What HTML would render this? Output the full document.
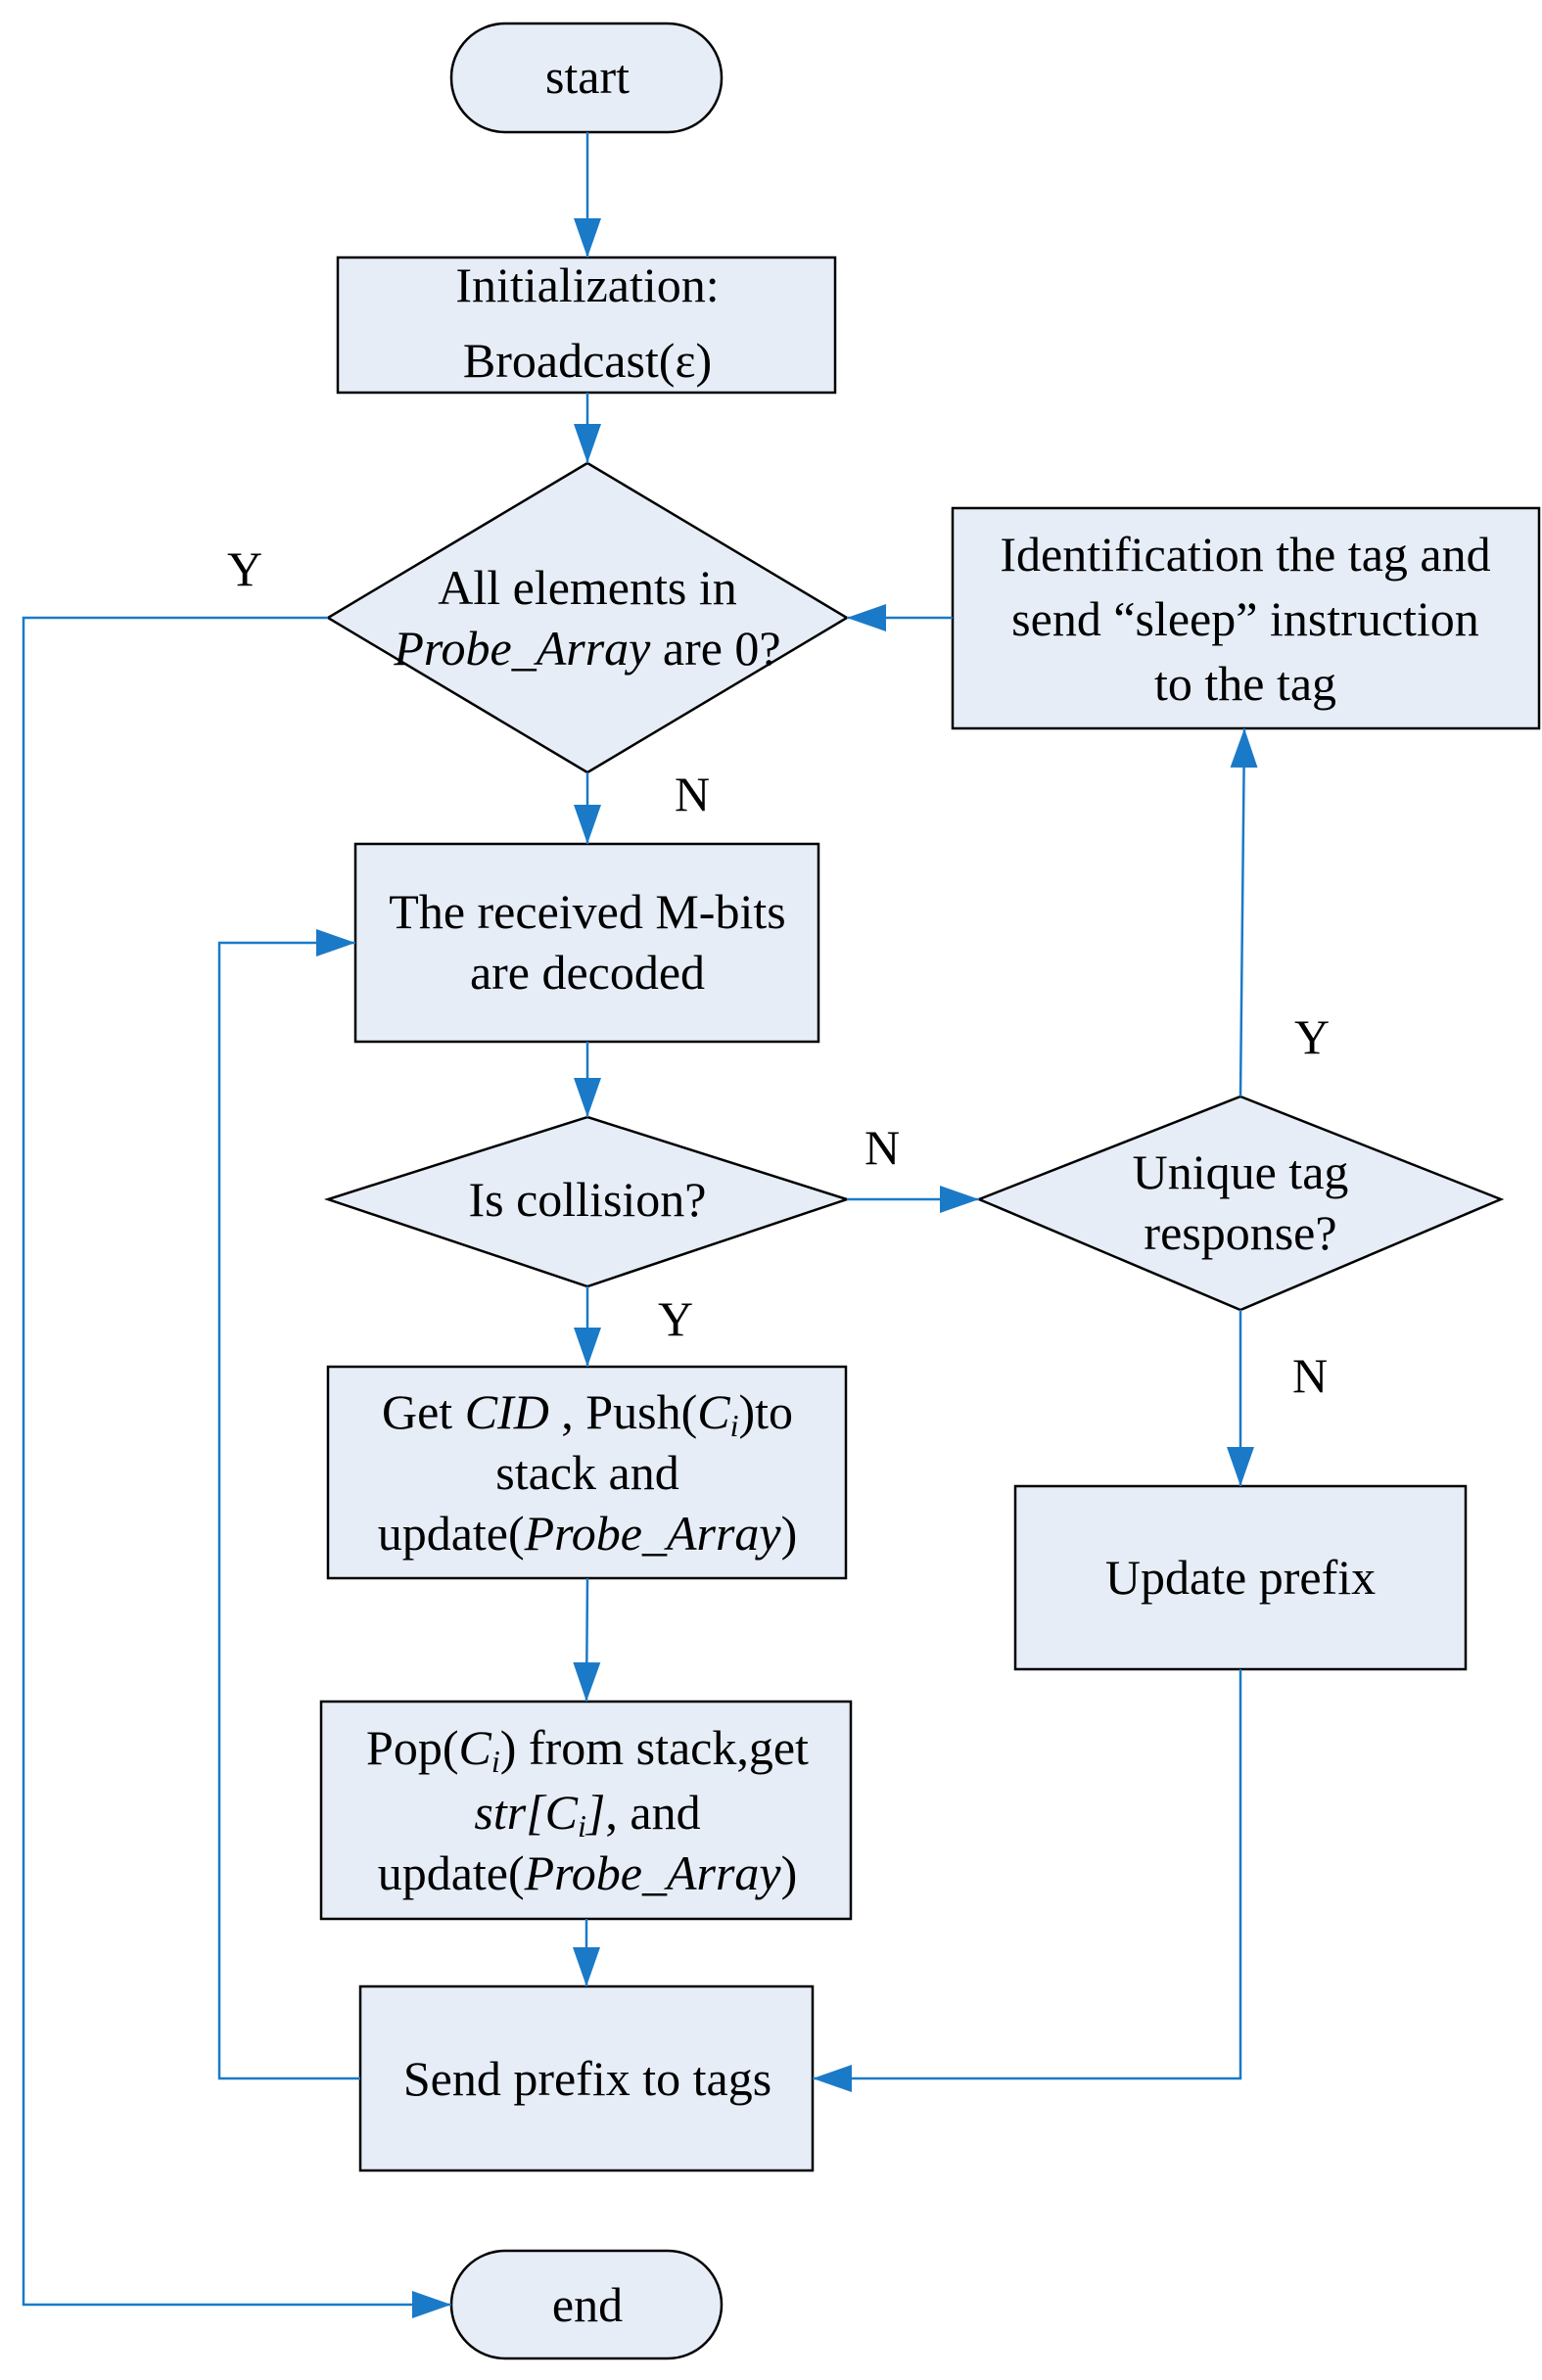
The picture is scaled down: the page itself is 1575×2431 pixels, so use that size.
<!DOCTYPE html>
<html><head><meta charset="utf-8"><style>
html,body{margin:0;padding:0;background:#fff}
svg text{font-family:"Liberation Serif",serif;font-size:50px;fill:#000;text-anchor:middle}
</style></head><body>
<svg width="1575" height="2426" viewBox="0 0 1575 2426" xmlns="http://www.w3.org/2000/svg">
<defs>
<marker id="b" viewBox="0 0 10 10" refX="10" refY="5" markerWidth="40" markerHeight="40" markerUnits="userSpaceOnUse" orient="auto"><path d="M0,1.5 L10,5 L0,8.5 z" fill="#1a7ac8"/></marker></defs>
<g fill="#e6edf7" stroke="#000" stroke-width="2.5">
<rect x="461" y="24" width="276" height="111" rx="55"/>
<rect x="345" y="263" width="508" height="138"/>
<polygon points="600,473 865,631 600,789 335,631"/>
<rect x="973" y="519" width="599" height="225"/>
<rect x="363" y="862" width="473" height="202"/>
<polygon points="600,1141 865,1225 600,1314 335,1225"/>
<polygon points="1267,1120 1533,1225 1267,1338 1000,1225"/>
<rect x="335" y="1396" width="529" height="216"/>
<rect x="1037" y="1518" width="460" height="187"/>
<rect x="328" y="1738" width="541" height="222"/>
<rect x="368" y="2029" width="462" height="188"/>
<rect x="461" y="2299" width="276" height="110" rx="55"/>
</g>
<g stroke="#1a7ac8" stroke-width="2.5" fill="none" marker-end="url(#b)">
<line x1="600" y1="135" x2="600" y2="263"/>
<line x1="600" y1="401" x2="600" y2="473"/>
<line x1="600" y1="789" x2="600" y2="862"/>
<line x1="600" y1="1064" x2="600" y2="1141"/>
<line x1="600" y1="1314" x2="600" y2="1396"/>
<line x1="600" y1="1612" x2="599" y2="1738"/>
<line x1="599" y1="1960" x2="599" y2="2029"/>
<line x1="973" y1="631" x2="865" y2="631"/>
<line x1="865" y1="1225" x2="1000" y2="1225"/>
<line x1="1267" y1="1120" x2="1271" y2="744"/>
<line x1="1267" y1="1338" x2="1267" y2="1518"/>
<polyline points="1267,1705 1267,2123 830,2123"/>
<polyline points="368,2123 224,2123 224,963 363,963"/>
<polyline points="335,631 24,631 24,2354 461,2354"/>
</g>
<text x="600" y="95">start</text>
<text x="600" y="308">Initialization:</text>
<text x="600" y="385">Broadcast(ε)</text>
<text x="600" y="617">All elements in</text>
<text x="600" y="679"><tspan font-style="italic">Probe_Array</tspan> are 0?</text>
<text x="1272" y="583">Identification the tag and</text>
<text x="1272" y="649">send “sleep” instruction</text>
<text x="1272" y="715">to the tag</text>
<text x="600" y="948">The received M-bits</text>
<text x="600" y="1010">are decoded</text>
<text x="600" y="1242">Is collision?</text>
<text x="1267" y="1214">Unique tag</text>
<text x="1267" y="1276">response?</text>
<text x="600" y="1459">Get <tspan font-style="italic">CID</tspan> , Push(<tspan font-style="italic">C<tspan font-size="32" dy="8">i</tspan></tspan><tspan dy="-8">)to</tspan></text>
<text x="600" y="1521">stack and</text>
<text x="600" y="1583">update(<tspan font-style="italic">Probe_Array</tspan>)</text>
<text x="1267" y="1628">Update prefix</text>
<text x="600" y="1802">Pop(<tspan font-style="italic">C<tspan font-size="32" dy="8">i</tspan></tspan><tspan dy="-8">) from stack,get</tspan></text>
<text x="600" y="1868"><tspan font-style="italic">str[C<tspan font-size="32" dy="8">i</tspan><tspan dy="-8">]</tspan></tspan>,  and</text>
<text x="600" y="1930">update(<tspan font-style="italic">Probe_Array</tspan>)</text>
<text x="600" y="2140">Send prefix to tags</text>
<text x="600" y="2371">end</text>
<text x="250" y="598">Y</text>
<text x="707" y="828">N</text>
<text x="901" y="1189">N</text>
<text x="1340" y="1076">Y</text>
<text x="690" y="1364">Y</text>
<text x="1338" y="1422">N</text>
</svg>
</body></html>
